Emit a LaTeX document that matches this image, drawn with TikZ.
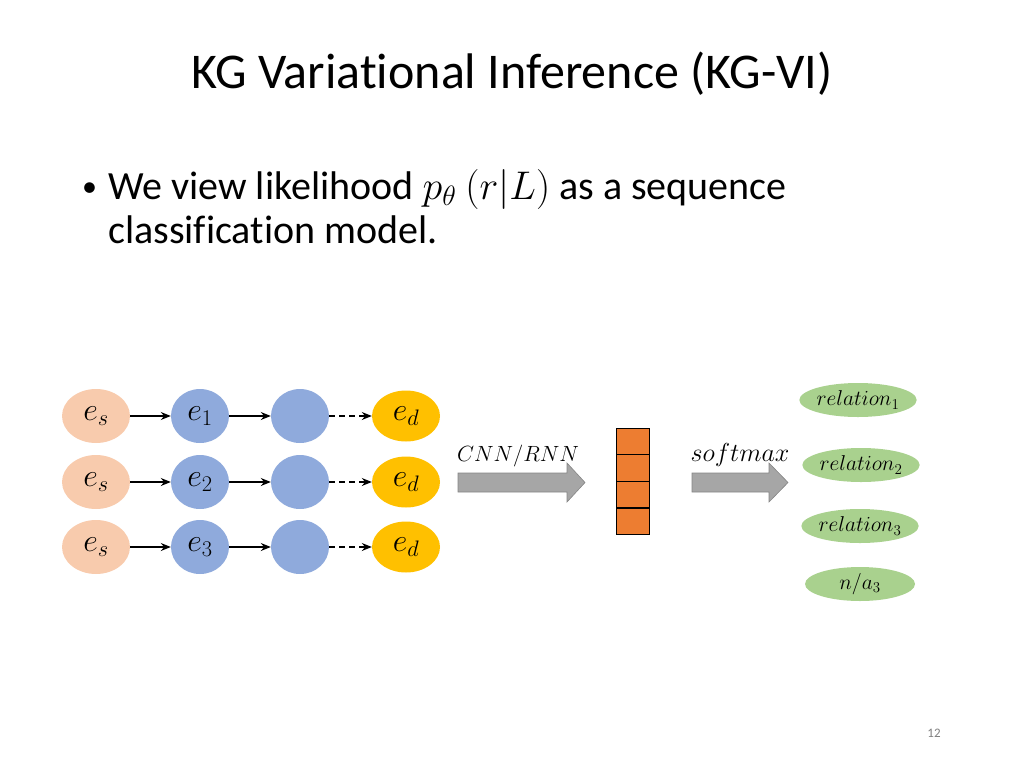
\RequirePackage{fix-cm}
\documentclass[tikz,border=0pt]{standalone}
\usepackage{fontspec}
\setmainfont{Carlito}[Ligatures=NoCommon]
\usetikzlibrary{positioning}
\usetikzlibrary{arrows.meta}
\usetikzlibrary{shapes.geometric}
\definecolor{peach}{RGB}{248,203,173}
\definecolor{node-blue}{RGB}{143,170,220}
\definecolor{gold}{RGB}{255,192,0}
\definecolor{vec-orange}{RGB}{237,125,49}
\definecolor{rel-green}{RGB}{169,209,142}
\definecolor{arrow-gray}{RGB}{166,166,166}

\begin{document}
\begin{tikzpicture}[x=1pt,y=-1pt,
    ent/.style={ellipse, minimum width=68pt, minimum height=54pt, inner sep=0pt, font=\fontsize{32}{36}\selectfont},
    src/.style={ent, fill=peach},
    mid/.style={ent, fill=node-blue, minimum width=58pt},
    dst/.style={ent, fill=gold, minimum height=51pt},
    rel/.style={ellipse, fill=rel-green, minimum width=110pt, minimum height=34pt, inner sep=0pt, font=\fontsize{21.5}{24}\selectfont},
    cell/.style={rectangle, draw=black, fill=vec-orange, minimum width=33pt, minimum height=26.25pt, inner sep=0pt},
    link/.style={-{Stealth[length=10pt,width=8pt]}, line width=1.1pt},
    blockarrow/.style={fill=arrow-gray, draw=arrow-gray!80!black, line width=0.6pt}]
\useasboundingbox (0,0) rectangle (1024,768);

% title and bullet
\node[anchor=base] (title) at (512,88) {\fontsize{50}{60}\selectfont KG Variational Inference (KG-VI)};
\node[anchor=base west, inner sep=0pt] (dot) at (82,196) {\fontsize{30}{36}\selectfont •};
\node[anchor=base west, inner sep=0pt] (line1) at (108,199) {\fontsize{40}{48}\selectfont We view likelihood $p_\theta\ (r|L)$ as a sequence};
\node[anchor=base west, inner sep=0pt] (line2) at (108,243) {\fontsize{40}{48}\selectfont classification model.};

% paths
\foreach \r/\y in {1/416,2/482,3/547}{
  \node[src] (s\r) at (96,\y) {$e_s$};
  \node[mid] (a\r) at (200,\y) {$e_{\r}$};
  \node[mid] (b\r) at (300,\y) {};
  \node[dst] (d\r) at (406,\y) {$e_d$};
  \draw[link] (s\r) -- (a\r);
  \draw[link] (a\r) -- (b\r);
  \draw[link, dash pattern=on 6pt off 4pt] (b\r) -- (d\r);
}

% encoder arrow
\filldraw[blockarrow] (458,473) -- (567,473) -- (567,463) -- (585,482.5) -- (567,502) -- (567,492) -- (458,492) -- cycle;
\node (cnn) at (518,456) {\fontsize{22}{26}\selectfont $CNN/RNN$};

% vector
\node[cell] (v1) at (632.5,441.1) {};
\node[cell, below=0pt of v1] (v2) {};
\node[cell, below=0pt of v2] (v3) {};
\node[cell, below=0pt of v3] (v4) {};

% softmax arrow
\filldraw[blockarrow] (692,473) -- (769,473) -- (769,463) -- (788,482.5) -- (769,502) -- (769,492) -- (692,492) -- cycle;
\node (soft) at (740,455) {\fontsize{26}{30}\selectfont $softmax$};

% outputs
\node[rel] (r1) at (858,400) {$relation_1$};
\node[rel] (r2) at (861,465) {$relation_2$};
\node[rel] (r3) at (860,526) {$relation_3$};
\node[rel] (r4) at (860,584) {$n/a_3$};

\node[text=gray] (page) at (934,733) {\fontsize{13}{15}\selectfont 12};
\end{tikzpicture}
\end{document}
